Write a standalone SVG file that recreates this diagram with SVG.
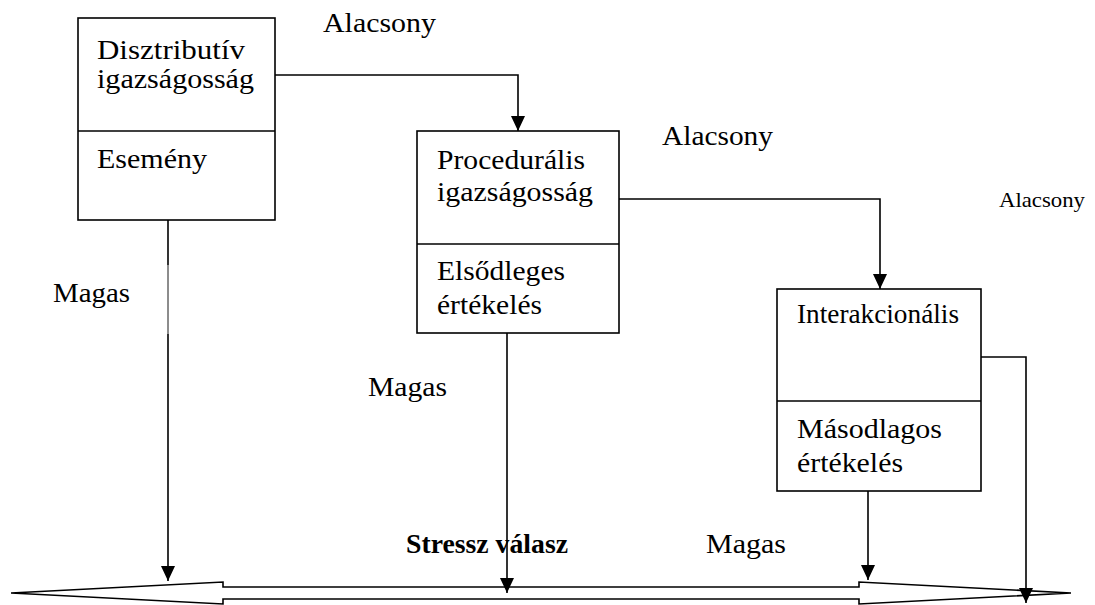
<svg xmlns="http://www.w3.org/2000/svg" width="1095" height="605" viewBox="0 0 1095 605">
<style>
.box{fill:#fff;stroke:#000;stroke-width:1.6}
.ln{fill:none;stroke:#000;stroke-width:1.6}
.t{font-family:"Liberation Serif","Times New Roman",serif;font-size:28px;fill:#000}
.b{font-weight:bold}
.s{font-size:21px}
</style>
<defs>
<marker id="ad" markerUnits="userSpaceOnUse" markerWidth="16" markerHeight="14" refX="15" refY="7" orient="auto" viewBox="0 0 16 14">
<path d="M0,0 L15,7 L0,14 Z" fill="#000"/>
</marker>
</defs>
<rect width="1095" height="605" fill="#fff"/>
<g id="stress-axis">
<polygon class="box" points="11,593 223,582 223,587 859,587 859,582 1071,593 859,604 859,599 223,599 223,604"/>
<text class="t b" x="406" y="553" textLength="162" lengthAdjust="spacingAndGlyphs">Stressz válasz</text>
</g>
<g id="connectors">
<polyline class="ln" points="275,75 518,75 518,131" marker-end="url(#ad)"/>
<polyline class="ln" points="619,199 880,199 880,289" marker-end="url(#ad)"/>
<polyline class="ln" points="168,220 168,265"/>
<line x1="168" y1="265" x2="168" y2="334" stroke="#000" stroke-width="0.9"/>
<line class="ln" x1="168" y1="334" x2="168" y2="581" marker-end="url(#ad)"/>
<line class="ln" x1="507" y1="333" x2="507" y2="593" marker-end="url(#ad)"/>
<line class="ln" x1="868" y1="491" x2="868" y2="580" marker-end="url(#ad)"/>
<polyline class="ln" points="981,357 1026,357 1026,603" marker-end="url(#ad)"/>
</g>
<g id="labels">
<text class="t" x="323" y="32" textLength="113" lengthAdjust="spacingAndGlyphs">Alacsony</text>
<text class="t" x="662" y="145" textLength="111" lengthAdjust="spacingAndGlyphs">Alacsony</text>
<text class="t s" x="999" y="207" textLength="86" lengthAdjust="spacingAndGlyphs">Alacsony</text>
<text class="t" x="53" y="302" textLength="77" lengthAdjust="spacingAndGlyphs">Magas</text>
<text class="t" x="368" y="396" textLength="79" lengthAdjust="spacingAndGlyphs">Magas</text>
<text class="t" x="706" y="553" textLength="80" lengthAdjust="spacingAndGlyphs">Magas</text>
</g>
<g id="node-disztributiv">
<rect class="box" x="78" y="18" width="197" height="202"/>
<line class="ln" x1="78" y1="131" x2="275" y2="131"/>
<text class="t" x="97" y="59" textLength="148" lengthAdjust="spacingAndGlyphs">Disztributív</text>
<text class="t" x="97" y="88" textLength="157" lengthAdjust="spacingAndGlyphs">igazságosság</text>
<text class="t" x="97" y="168" textLength="110" lengthAdjust="spacingAndGlyphs">Esemény</text>
</g>
<g id="node-procedurális">
<rect class="box" x="417" y="131" width="202" height="202"/>
<line class="ln" x1="417" y1="244" x2="619" y2="244"/>
<text class="t" x="437" y="169" textLength="148" lengthAdjust="spacingAndGlyphs">Procedurális</text>
<text class="t" x="437" y="201" textLength="156" lengthAdjust="spacingAndGlyphs">igazságosság</text>
<text class="t" x="437" y="280" textLength="128" lengthAdjust="spacingAndGlyphs">Elsődleges</text>
<text class="t" x="437" y="314" textLength="105" lengthAdjust="spacingAndGlyphs">értékelés</text>
</g>
<g id="node-interakcionalis">
<rect class="box" x="777" y="289" width="204" height="202"/>
<line class="ln" x1="777" y1="401" x2="981" y2="401"/>
<text class="t" x="797" y="323" textLength="162" lengthAdjust="spacingAndGlyphs">Interakcionális</text>
<text class="t" x="797" y="438" textLength="145" lengthAdjust="spacingAndGlyphs">Másodlagos</text>
<text class="t" x="797" y="472" textLength="106" lengthAdjust="spacingAndGlyphs">értékelés</text>
</g>
</svg>
